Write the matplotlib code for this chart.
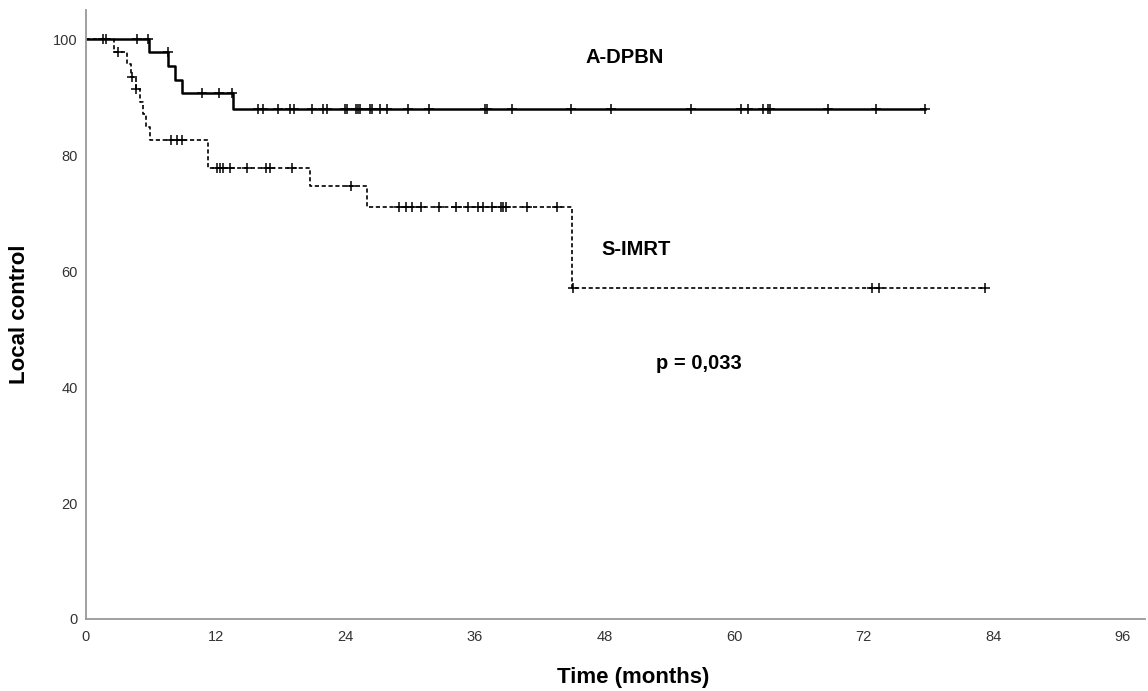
import matplotlib
matplotlib.use("Agg")
import matplotlib.pyplot as plt
import numpy as np

plt.rcParams["font.family"] = ["Liberation Sans", "DejaVu Sans"]

# A-DPBN: event times (months) and survival after each event
adpbn_times = [0, 5.8, 7.6, 8.2, 8.9, 13.6]
adpbn_surv = [100, 97.7, 95.3, 93.0, 90.7, 88.0]
adpbn_end = 77.7
adpbn_censor = [1.6, 1.85, 4.7, 5.75, 7.55, 10.7, 12.3, 13.5,
                15.9, 16.4, 17.8, 18.9, 19.3, 20.9, 21.9, 22.3, 24.0, 24.2,
                25.0, 25.2, 25.4, 26.3, 26.5, 27.2, 27.9, 29.8, 31.8, 36.9,
                37.1, 39.4, 44.9, 48.6, 56.0, 60.6, 61.3, 62.7, 63.1, 63.3,
                68.7, 73.1, 77.7]

# S-IMRT
simrt_times = [0, 2.6, 3.8, 4.2, 4.6, 5.0, 5.3, 5.6, 5.9, 11.3, 20.7, 26.0, 45.0]
simrt_surv = [100, 97.8, 95.7, 93.5, 91.3, 89.1, 87.0, 84.8, 82.6, 77.8, 74.6, 71.1, 57.0]
simrt_end = 83.2
simrt_censor = [3.0, 4.25, 4.65, 7.9, 8.4, 8.9, 12.1, 12.4, 12.7, 13.3, 14.9,
                16.7, 17.0, 19.1, 24.5, 29.0, 29.6, 30.2, 31.0, 32.7, 34.3,
                35.4, 36.3, 36.8, 37.6, 38.4, 38.6, 38.9, 40.8, 43.6, 45.1,
                72.8, 73.4, 83.2]

x_ticks = [0, 12, 24, 36, 48, 60, 72, 84, 96]
y_ticks = [0, 20, 40, 60, 80, 100]


def km_curve(ax, times, surv, end, censor, **style):
    t = np.append(times, end)
    s = np.append(surv, surv[-1])
    ax.step(t, s, where="post", color="black", **style)
    idx = np.searchsorted(times, censor, side="right") - 1
    levels = np.asarray(surv)[idx]
    ax.plot(censor, levels, linestyle="None", marker="+", color="black",
            markersize=7, markeredgewidth=1.1)


fig = plt.figure(figsize=(11.48, 6.91), dpi=100)
ax = fig.add_axes([0.0749, 0.1042, 0.9221, 0.8813])

km_curve(ax, adpbn_times, adpbn_surv, adpbn_end, adpbn_censor, linewidth=1.8)
km_curve(ax, simrt_times, simrt_surv, simrt_end, simrt_censor,
         linewidth=1.2, linestyle=(0, (2.5, 1.6)))

ax.set_xlim(0, 98)
ax.set_ylim(0, 105)
ax.set_xticks(x_ticks)
ax.set_yticks(y_ticks)
ax.tick_params(length=0, labelsize=10.5, colors="#333333")
ax.tick_params(axis="x", pad=8)
ax.tick_params(axis="y", pad=6)

for side in ("top", "right"):
    ax.spines[side].set_visible(False)
for side in ("left", "bottom"):
    ax.spines[side].set_color("#999999")
    ax.spines[side].set_linewidth(1.3)

ax.text(49.9, 96.8, "A-DPBN", ha="center", va="center", fontsize=14.5, fontweight="bold")
ax.text(50.9, 63.7, "S-IMRT", ha="center", va="center", fontsize=14.5, fontweight="bold")
ax.text(56.7, 44.0, "p = 0,033", ha="center", va="center", fontsize=14.5, fontweight="bold")

fig.text(20 / 1148, 1 - 314 / 691, "Local control", rotation=90, ha="center",
         va="center", fontsize=16, fontweight="bold")
fig.text(633 / 1148, 1 - 677 / 691, "Time (months)", ha="center", va="center",
         fontsize=16, fontweight="bold")

fig.savefig("out.png", dpi=100)
